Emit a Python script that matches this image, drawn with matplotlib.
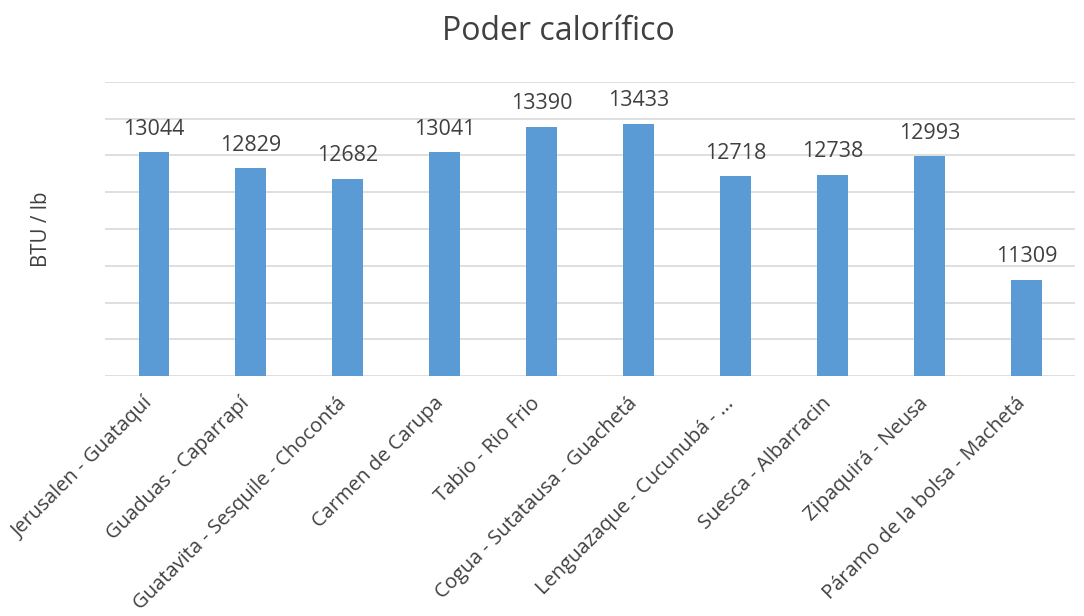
import numpy as np
import matplotlib.pyplot as plt
from matplotlib.transforms import ScaledTranslation

plt.rcParams['font.family'] = ['Open Sans', 'DejaVu Sans']

# Datos
zonas = ['Jerusalen - Guataquí', 'Guaduas - Caparrapí', 'Guatavita - Sesquile - Chocontá',
         'Carmen de Carupa', 'Tabio - Rio Frio', 'Cogua - Sutatausa - Guachetá',
         'Lenguazaque - Cucunubá - ...', 'Suesca - Albarracin', 'Zipaquirá - Neusa',
         'Páramo de la bolsa - Machetá']
poder = [13044, 12829, 12682, 13041, 13390, 13433, 12718, 12738, 12993, 11309]

color_barra = '#5b9bd5'
color_texto = '#404040'
color_grid = '#d9d9d9'

fig = plt.figure(figsize=(10.84, 6.16), dpi=100)
ax = fig.add_axes([0.0969, 0.3896, 0.8948, 0.4773])

x = np.arange(len(zonas))
barras = ax.bar(x, poder, width=0.31, color=color_barra, zorder=2)

ax.set_xlim(-0.5, len(zonas) - 0.5)
ax.set_ylim(10000, 14000)
ax.set_yticks(np.arange(10000, 14001, 500))
ax.yaxis.grid(True, color=color_grid, linewidth=1.2, zorder=0)
ax.tick_params(axis='y', left=False, labelleft=False)
ax.tick_params(axis='x', bottom=False)
for s in ax.spines.values():
    s.set_visible(False)

# Etiquetas de valor
for xi, v in zip(x, poder):
    ax.annotate(str(v), (xi, v), xytext=(0, 9), textcoords='offset points',
                ha='center', va='bottom', fontsize=15.5, color=color_texto)

ax.set_xticks(x)
ax.set_xticklabels(zonas, rotation=45, ha='right', va='top', rotation_mode='anchor',
                   fontsize=14.5, color=color_texto)
offset = ScaledTranslation(-8 / 72, -5.5 / 72, fig.dpi_scale_trans)
for lab in ax.get_xticklabels():
    lab.set_transform(lab.get_transform() + offset)

ax.set_ylabel('BTU / lb', fontsize=14.8, color=color_texto, labelpad=38)
fig.suptitle('Poder calorífico', fontsize=23, color=color_texto, x=0.515, y=0.975)

fig.savefig('out.png', dpi=100)
